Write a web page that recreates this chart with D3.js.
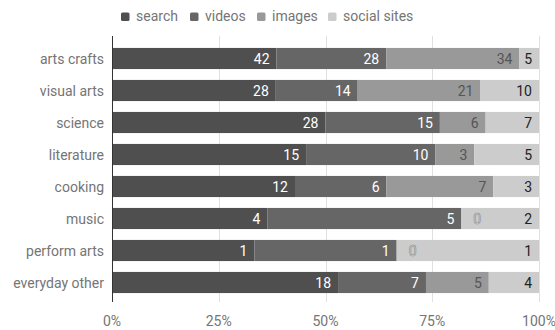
<!DOCTYPE html>
<html><head><meta charset="utf-8">
<script src="https://cdn.jsdelivr.net/npm/d3@7"></script>
<style>body{margin:0;background:#fff}svg{display:block;font-family:Roboto,sans-serif}</style>
</head><body>
<svg id="c" width="555" height="330"></svg>
<script>
const categories = ["arts crafts","visual arts","science","literature","cooking","music","perform arts","everyday other"];
const seriesNames = ["search","videos","images","social sites"];
const search  = [42,28,28,15,12,4,1,18];
const videos  = [28,14,15,10,6,5,1,7];
const images  = [34,21,6,3,7,0,0,5];
const social  = [5,10,7,5,3,2,1,4];
const tickLabels = ["0%","25%","50%","75%","100%"];
const colors = ["#4f4f4f","#666666","#999999","#cccccc"];
const labelColors = ["#ffffff","#ffffff","#555555","#222222"];

const seriesVals = [search, videos, images, social];
const rows = categories.map((c,i)=>{
  const o = {cat:c};
  seriesNames.forEach((s,j)=>o[s]=seriesVals[j][i]);
  return o;
});
const stack = d3.stack().keys(seriesNames).offset(d3.stackOffsetExpand)(rows);

const svg = d3.select("#c");
const x = d3.scaleLinear().domain([0,1]).range([112,539]);
const y = d3.scaleBand().domain(categories).range([42.5,298.5]).paddingInner(0.34).paddingOuter(0.17);

// gridlines
const ticks = [0,0.25,0.5,0.75,1];
svg.append("g").selectAll("line").data(ticks).join("line")
  .attr("x1",d=>Math.round(x(d))+0.5).attr("x2",d=>Math.round(x(d))+0.5)
  .attr("y1",36).attr("y2",302)
  .attr("stroke",d=>d===0?"#333":"#e0e0e0").attr("stroke-width",1);

// bars
const g = svg.append("g");
stack.forEach((layer,j)=>{
  g.append("g").selectAll("rect").data(layer).join("rect")
    .attr("x",d=>x(d[0])).attr("width",d=>x(d[1])-x(d[0]))
    .attr("y",d=>y(d.data.cat)).attr("height",y.bandwidth())
    .attr("fill",colors[j]);
});
svg.append("line").attr("x1",112.5).attr("x2",112.5).attr("y1",36).attr("y2",302).attr("stroke","#333");

// labels
stack.forEach((layer,j)=>{
  g.append("g").selectAll("text").data(layer).join("text")
    .each(function(d){
      const v = d.data[seriesNames[j]];
      const t = d3.select(this);
      t.text(v).attr("y",y(d.data.cat)+y.bandwidth()/2).attr("dy","0.36em")
       .attr("font-size",14);
      if(v===0){
        t.attr("x",x(d[1])+12).attr("text-anchor","start")
         .attr("fill","#f4f4f4").attr("stroke","#8a8a8a").attr("stroke-width",0.7);
      } else {
        t.attr("x",x(d[1])-7).attr("text-anchor","end").attr("fill",labelColors[j]);
      }
    });
});

// y axis labels
svg.append("g").selectAll("text").data(categories).join("text")
  .attr("x",104).attr("y",d=>y(d)+y.bandwidth()/2).attr("dy","0.36em")
  .attr("text-anchor","end").attr("font-size",14).attr("fill","#757575").text(d=>d);

// x tick labels
svg.append("g").selectAll("text").data(ticks).join("text")
  .attr("x",(d,i)=>x(d)).attr("y",326).attr("text-anchor","middle")
  .attr("font-size",14).attr("fill","#757575").text((d,i)=>tickLabels[i]);

// legend
const legendX = [121,190,257,328];
const lg = svg.append("g");
seriesNames.forEach((s,i)=>{
  lg.append("rect").attr("x",legendX[i]).attr("y",12.5).attr("width",8.5).attr("height",8.5).attr("rx",1.5).attr("fill",colors[i]);
  lg.append("text").attr("x",legendX[i]+15).attr("y",21)
    .attr("font-size",14).attr("fill","#757575").text(s);
});
</script>
</body></html>
